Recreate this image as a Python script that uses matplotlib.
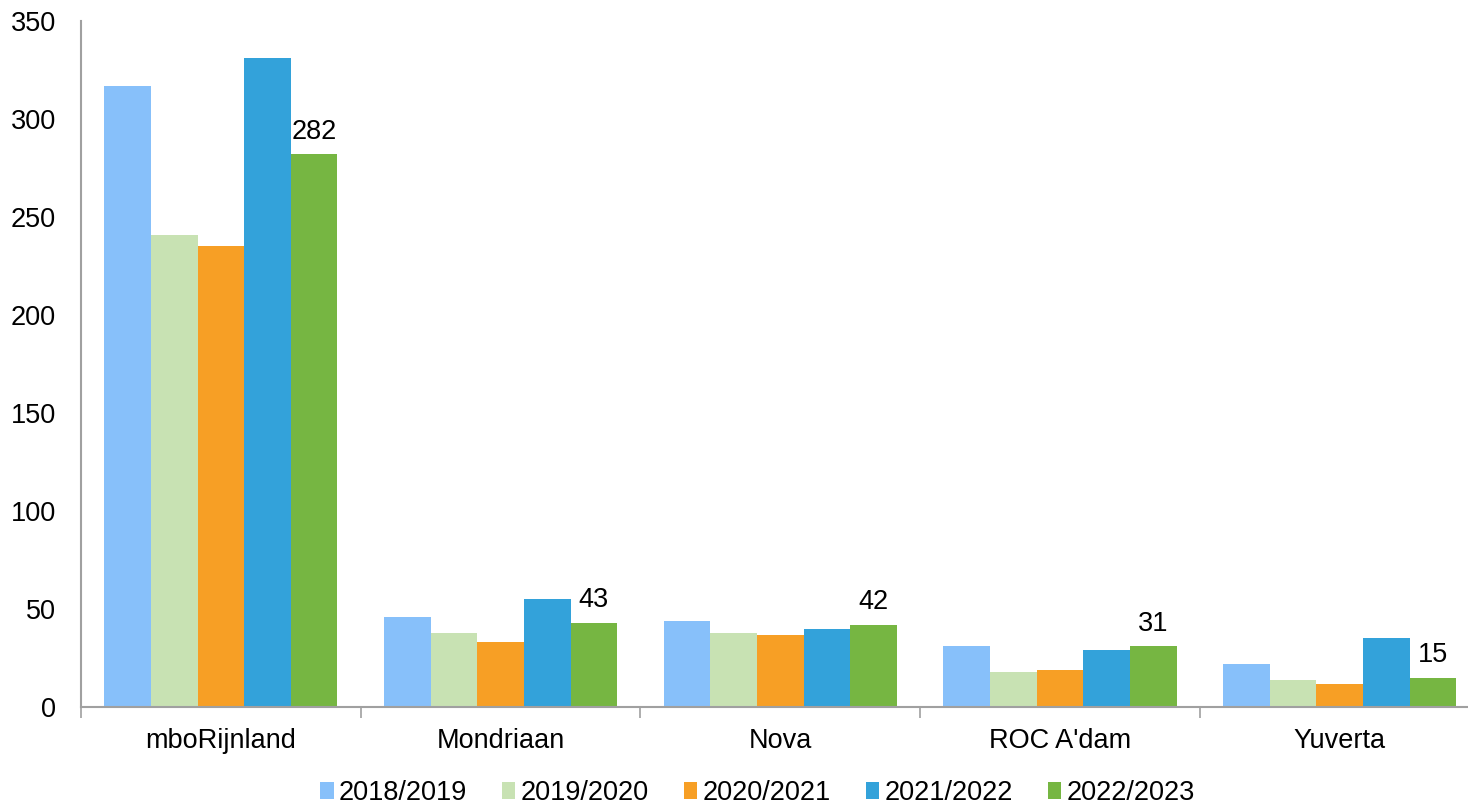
import matplotlib
matplotlib.use("Agg")
import matplotlib.pyplot as plt
import numpy as np

plt.rcParams["font.family"] = ["Liberation Sans", "DejaVu Sans"]

schools = ["mboRijnland", "Mondriaan", "Nova", "ROC A'dam", "Yuverta"]
years = ["2018/2019", "2019/2020", "2020/2021", "2021/2022", "2022/2023"]
v2018 = [317, 46, 44, 31, 22]
v2019 = [241, 38, 38, 18, 14]
v2020 = [235, 33, 37, 19, 12]
v2021 = [331, 55, 40, 29, 35]
v2022 = [282, 43, 42, 31, 15]
colors = ["#87C0FA", "#C8E2B3", "#F79F25", "#33A2DA", "#76B642"]

series = [v2018, v2019, v2020, v2021, v2022]
fs = 19.5

fig = plt.figure(figsize=(14.68, 8.05), dpi=100)
ax = fig.add_axes([0.0552, 0.1217, 0.9527, 0.8522])

x = np.arange(len(schools))
w = 1 / 6
for i, (vals, col, lab) in enumerate(zip(series, colors, years)):
    ax.bar(x + (i - 2) * w, vals, width=w, color=col, label=lab, edgecolor="none")

# value labels only on the last season
for xi, v in zip(x, v2022):
    ax.annotate(str(v), (xi + 2 * w, v), xytext=(0, 7), textcoords="offset points",
                ha="center", va="bottom", fontsize=fs)

ax.set_xlim(-0.5, 4.5)
ax.set_ylim(0, 350)
ax.set_yticks(range(0, 351, 50))
ax.tick_params(axis="y", length=0, labelsize=fs, pad=18)
ax.set_xticks(x)
ax.set_xticklabels(schools)
ax.set_xticks(np.arange(-0.5, 5, 1), minor=True)
ax.tick_params(axis="x", which="major", length=0, labelsize=fs, pad=15)
ax.tick_params(axis="x", which="minor", length=8, color="#A0A0A0", width=1.2)

for s in ["top", "right"]:
    ax.spines[s].set_visible(False)
for s in ["left", "bottom"]:
    ax.spines[s].set_color("#A0A0A0")
    ax.spines[s].set_linewidth(1.5)

fig.legend(loc="lower center", bbox_to_anchor=(0.516, -0.032), ncol=5, frameon=False,
           fontsize=fs, handlelength=0.5, handleheight=0.6, handletextpad=0.2,
           columnspacing=1.28)

fig.savefig("out.png", dpi=100)
plt.close(fig)
